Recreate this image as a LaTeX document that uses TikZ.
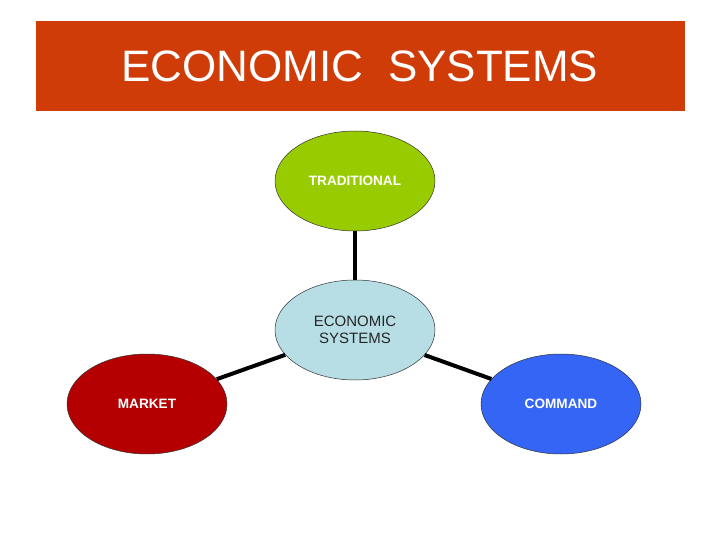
\documentclass[tikz,border=0pt]{standalone}
\usepackage{fontspec}
\setmainfont{Liberation Sans}
\usetikzlibrary{shapes.geometric}
\definecolor{bannerred}{RGB}{208,60,8}
\definecolor{tradgreen}{RGB}{153,204,0}
\definecolor{centreblue}{RGB}{182,222,228}
\definecolor{marketred}{RGB}{180,0,0}
\definecolor{commandblue}{RGB}{52,101,245}

\begin{document}
\begin{tikzpicture}[x=1pt, y=-1pt,
  sys/.style={ellipse, draw=black!80, line width=0.5pt, minimum width=160pt, minimum height=100pt, inner sep=0pt},
  syslabel/.style={text=white, font=\fontsize{13.6}{16}\selectfont\bfseries},
  link/.style={black, line width=4pt}]

\useasboundingbox (0,0) rectangle (720,540);

% banner
\fill[bannerred] (36,21) rectangle (685,111);
\node[text=white, font=\fontsize{44}{50}\selectfont] (title) at (360,66) {ECONOMIC\ \ SYSTEMS};

% ellipses
\node[sys, fill=centreblue, align=center, text=black!85, font=\fontsize{15}{17.5}\selectfont] (centre) at (355,330) {ECONOMIC\\ SYSTEMS};
\node[sys, fill=tradgreen, syslabel] (trad) at (355,181) {TRADITIONAL};
\node[sys, fill=marketred, syslabel] (market) at (147,404) {MARKET};
\node[sys, fill=commandblue, syslabel] (command) at (561,404) {COMMAND};

% links
\draw[link] (centre) -- (trad);
\draw[link] (centre) -- (market);
\draw[link] (centre) -- (command);

\end{tikzpicture}
\end{document}
